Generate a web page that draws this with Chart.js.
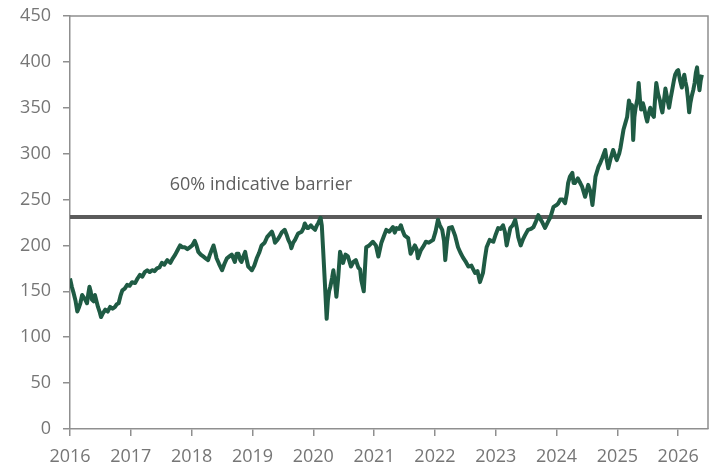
<!DOCTYPE html>
<html>
<head>
<meta charset="utf-8">
<script src="https://cdn.jsdelivr.net/npm/chart.js@4/dist/chart.umd.min.js"></script>
<style>
  html, body { margin: 0; padding: 0; background: #fff; }
  #wrap { width: 718px; height: 471px; }
</style>
</head>
<body>
<div id="wrap"><canvas id="grafico"></canvas></div>
<script>
// fechas en años decimales y precio
const fechas = [
  2016.00, 2016.03, 2016.06, 2016.09, 2016.12, 2016.15, 2016.17, 2016.20, 2016.22, 2016.25,
  2016.28, 2016.30, 2016.32, 2016.34, 2016.36, 2016.39, 2016.41, 2016.44, 2016.46, 2016.49,
  2016.51, 2016.54, 2016.58, 2016.62, 2016.66, 2016.70, 2016.74, 2016.77, 2016.80, 2016.83,
  2016.86, 2016.90, 2016.94, 2016.98, 2017.02, 2017.07, 2017.11, 2017.15, 2017.19, 2017.23,
  2017.27, 2017.31, 2017.35, 2017.39, 2017.43, 2017.47, 2017.51, 2017.55, 2017.60, 2017.65,
  2017.69, 2017.73, 2017.77, 2017.81, 2017.85, 2017.89, 2017.93, 2017.97, 2018.01, 2018.05,
  2018.08, 2018.11, 2018.15, 2018.19, 2018.23, 2018.27, 2018.30, 2018.33, 2018.36, 2018.39,
  2018.41, 2018.45, 2018.50, 2018.54, 2018.58, 2018.62, 2018.66, 2018.71, 2018.74, 2018.77,
  2018.80, 2018.82, 2018.85, 2018.88, 2018.90, 2018.93, 2018.96, 2018.99, 2019.03, 2019.07,
  2019.11, 2019.15, 2019.20, 2019.24, 2019.28, 2019.32, 2019.35, 2019.37, 2019.41, 2019.44,
  2019.48, 2019.53, 2019.56, 2019.59, 2019.62, 2019.64, 2019.67, 2019.70, 2019.75, 2019.81,
  2019.84, 2019.86, 2019.90, 2019.92, 2019.96, 2019.98, 2020.03, 2020.06, 2020.08, 2020.12,
  2020.14, 2020.16, 2020.19, 2020.22, 2020.24, 2020.26, 2020.28, 2020.31, 2020.33, 2020.36,
  2020.38, 2020.41, 2020.44, 2020.47, 2020.49, 2020.53, 2020.57, 2020.62, 2020.66, 2020.70,
  2020.74, 2020.77, 2020.79, 2020.83, 2020.85, 2020.87, 2020.92, 2020.98, 2021.03, 2021.07,
  2021.12, 2021.16, 2021.20, 2021.25, 2021.31, 2021.34, 2021.37, 2021.41, 2021.44, 2021.47,
  2021.50, 2021.56, 2021.60, 2021.64, 2021.67, 2021.70, 2021.72, 2021.77, 2021.82, 2021.85,
  2021.90, 2021.97, 2022.01, 2022.05, 2022.08, 2022.12, 2022.15, 2022.17, 2022.20, 2022.23,
  2022.28, 2022.33, 2022.38, 2022.42, 2022.46, 2022.50, 2022.55, 2022.60, 2022.63, 2022.66,
  2022.70, 2022.74, 2022.77, 2022.79, 2022.82, 2022.85, 2022.90, 2022.96, 2023.00, 2023.04,
  2023.08, 2023.12, 2023.15, 2023.18, 2023.24, 2023.28, 2023.32, 2023.35, 2023.37, 2023.41,
  2023.45, 2023.48, 2023.53, 2023.58, 2023.62, 2023.66, 2023.70, 2023.73, 2023.76, 2023.81,
  2023.86, 2023.90, 2023.95, 2024.00, 2024.03, 2024.06, 2024.10, 2024.14, 2024.17, 2024.19,
  2024.22, 2024.26, 2024.28, 2024.30, 2024.35, 2024.39, 2024.42, 2024.47, 2024.52, 2024.56,
  2024.59, 2024.62, 2024.64, 2024.69, 2024.72, 2024.75, 2024.80, 2024.82, 2024.85, 2024.89,
  2024.93, 2024.96, 2024.99, 2025.03, 2025.05, 2025.08, 2025.10, 2025.13, 2025.16, 2025.19,
  2025.22, 2025.24, 2025.26, 2025.28, 2025.30, 2025.33, 2025.35, 2025.37, 2025.39, 2025.42,
  2025.44, 2025.47, 2025.49, 2025.52, 2025.54, 2025.57, 2025.60, 2025.62, 2025.64, 2025.67,
  2025.70, 2025.72, 2025.74, 2025.77, 2025.79, 2025.82, 2025.85, 2025.88, 2025.90, 2025.93,
  2025.95, 2025.98, 2026.00, 2026.03, 2026.06, 2026.08, 2026.10, 2026.12, 2026.14, 2026.16,
  2026.18, 2026.20, 2026.22, 2026.25, 2026.27, 2026.29, 2026.31, 2026.33, 2026.35, 2026.37,
  2026.39
];

const precios = [
  164, 155, 148, 140, 128, 133, 137, 146, 144, 141,
  137, 147, 155, 150, 141, 139, 146, 138, 133, 127,
  122, 126, 130, 128, 133, 131, 133, 136, 137, 145,
  151, 153, 157, 156, 160, 159, 164, 168, 166, 171,
  173, 171, 173, 172, 175, 176, 181, 179, 184, 181,
  186, 190, 195, 200, 198, 198, 196, 198, 200, 205,
  200, 193, 190, 188, 186, 184, 190, 195, 200, 192,
  186, 180, 173, 180, 186, 188, 190, 182, 191, 191,
  184, 182, 188, 193, 186, 177, 175, 173, 178, 186,
  192, 200, 203, 209, 212, 215, 209, 203, 206, 209,
  214, 217, 212, 206, 202, 197, 203, 206, 213, 215,
  219, 224, 219, 219, 222, 220, 217, 222, 224, 230,
  222, 198, 160, 120, 140, 150, 155, 165, 173, 158,
  144, 165, 193, 186, 181, 190, 188, 177, 182, 184,
  176, 174, 162, 150, 175, 198, 200, 204, 200, 188,
  203, 210, 217, 215, 220, 214, 219, 218, 222, 216,
  211, 208, 191, 196, 200, 196, 186, 195, 200, 204,
  203, 206, 215, 228, 222, 217, 205, 184, 205, 219,
  220, 211, 198, 192, 187, 183, 177, 178, 174, 170,
  172, 160, 166, 170, 185, 198, 206, 204, 212, 219,
  218, 222, 215, 200, 219, 222, 228, 218, 209, 200,
  207, 211, 217, 218, 220, 226, 233, 229, 226, 219,
  226, 231, 242, 244, 246, 250, 250, 246, 257, 268,
  275, 279, 268, 268, 273, 268, 264, 253, 266, 258,
  244, 262, 275, 286, 290, 295, 304, 295, 284, 295,
  304, 298, 293, 300, 306, 318, 326, 333, 340, 358,
  350, 353, 315, 340, 350, 360, 377, 360, 348, 355,
  350, 340, 335, 345, 350, 343, 340, 360, 377, 365,
  358, 350, 345, 360, 371, 360, 350, 362, 369, 380,
  386, 390, 391, 380, 372, 380, 386, 378, 372, 360,
  345, 355, 362, 370, 377, 388, 394, 380, 369, 380,
  386
];

// barrera indicativa del 60%
const barreraValor = 231;
const barreraDesde = 2016.0;
const barreraHasta = 2026.39;
const barreraTexto = '60% indicative barrier';

const aniosTicks = [2016, 2017, 2018, 2019, 2020, 2021, 2022, 2023, 2024, 2025, 2026];
const valoresTicks = [0, 50, 100, 150, 200, 250, 300, 350, 400, 450];

const colorLinea = '#1f5b44';
const colorBarrera = '#5b5b5b';
const colorEje = '#8f8f8f';
const colorTexto = '#767676';
const fuente = "'Open Sans', 'Noto Sans', sans-serif";

const serie = fechas.map((f, i) => ({ x: f, y: precios[i] }));
const barrera = [{ x: barreraDesde, y: barreraValor }, { x: barreraHasta, y: barreraValor }];

// marco gris alrededor del área y texto de la barrera
const marcoPlugin = {
  id: 'marco',
  afterDatasetsDraw(chart) {
    const { ctx, chartArea: a, scales } = chart;
    ctx.save();
    ctx.strokeStyle = colorEje;
    ctx.lineWidth = 1.5;
    ctx.beginPath();
    ctx.moveTo(a.left, a.top);
    ctx.lineTo(a.right, a.top);
    ctx.lineTo(a.right, a.bottom);
    ctx.stroke();

    ctx.fillStyle = '#5f5f5f';
    ctx.font = '18px ' + fuente;
    ctx.textAlign = 'left';
    ctx.textBaseline = 'middle';
    ctx.fillText(barreraTexto, scales.x.getPixelForValue(2017.64), scales.y.getPixelForValue(266));
    ctx.restore();
  }
};

const ctx = document.getElementById('grafico').getContext('2d');
new Chart(ctx, {
  type: 'line',
  data: {
    datasets: [
      {
        label: 'Precio',
        data: serie,
        borderColor: colorLinea,
        borderWidth: 4,
        borderJoinStyle: 'round',
        pointRadius: 0,
        tension: 0,
        order: 1
      },
      {
        label: 'Barrera',
        data: barrera,
        borderColor: colorBarrera,
        borderWidth: 4,
        pointRadius: 0,
        order: 2
      }
    ]
  },
  options: {
    responsive: true,
    maintainAspectRatio: false,
    animation: false,
    layout: { padding: { top: 16, right: 10, left: 0, bottom: 0 } },
    plugins: {
      legend: { display: false },
      tooltip: { enabled: false }
    },
    scales: {
      x: {
        type: 'linear',
        min: 2016,
        max: 2026.49,
        afterBuildTicks: s => { s.ticks = aniosTicks.map(v => ({ value: v })); },
        afterFit: s => { s.height = 42; s.paddingLeft = 0; s.paddingRight = 0; },
        ticks: {
          color: colorTexto,
          font: { family: fuente, size: 18 },
          padding: 10,
          maxRotation: 0,
          callback: v => String(v)
        },
        grid: { drawOnChartArea: false, color: colorEje, lineWidth: 1.5, tickLength: 7 },
        border: { color: colorEje, width: 1.5 }
      },
      y: {
        min: 0,
        max: 450,
        afterBuildTicks: s => { s.ticks = valoresTicks.map(v => ({ value: v })); },
        afterFit: s => { s.width = 70; s.paddingTop = 0; s.paddingBottom = 0; },
        ticks: {
          color: colorTexto,
          font: { family: fuente, size: 18 },
          padding: 12
        },
        grid: { drawOnChartArea: false, color: colorEje, lineWidth: 1.5, tickLength: 7 },
        border: { color: colorEje, width: 1.5 }
      }
    }
  },
  plugins: [marcoPlugin]
});
</script>
</body>
</html>
